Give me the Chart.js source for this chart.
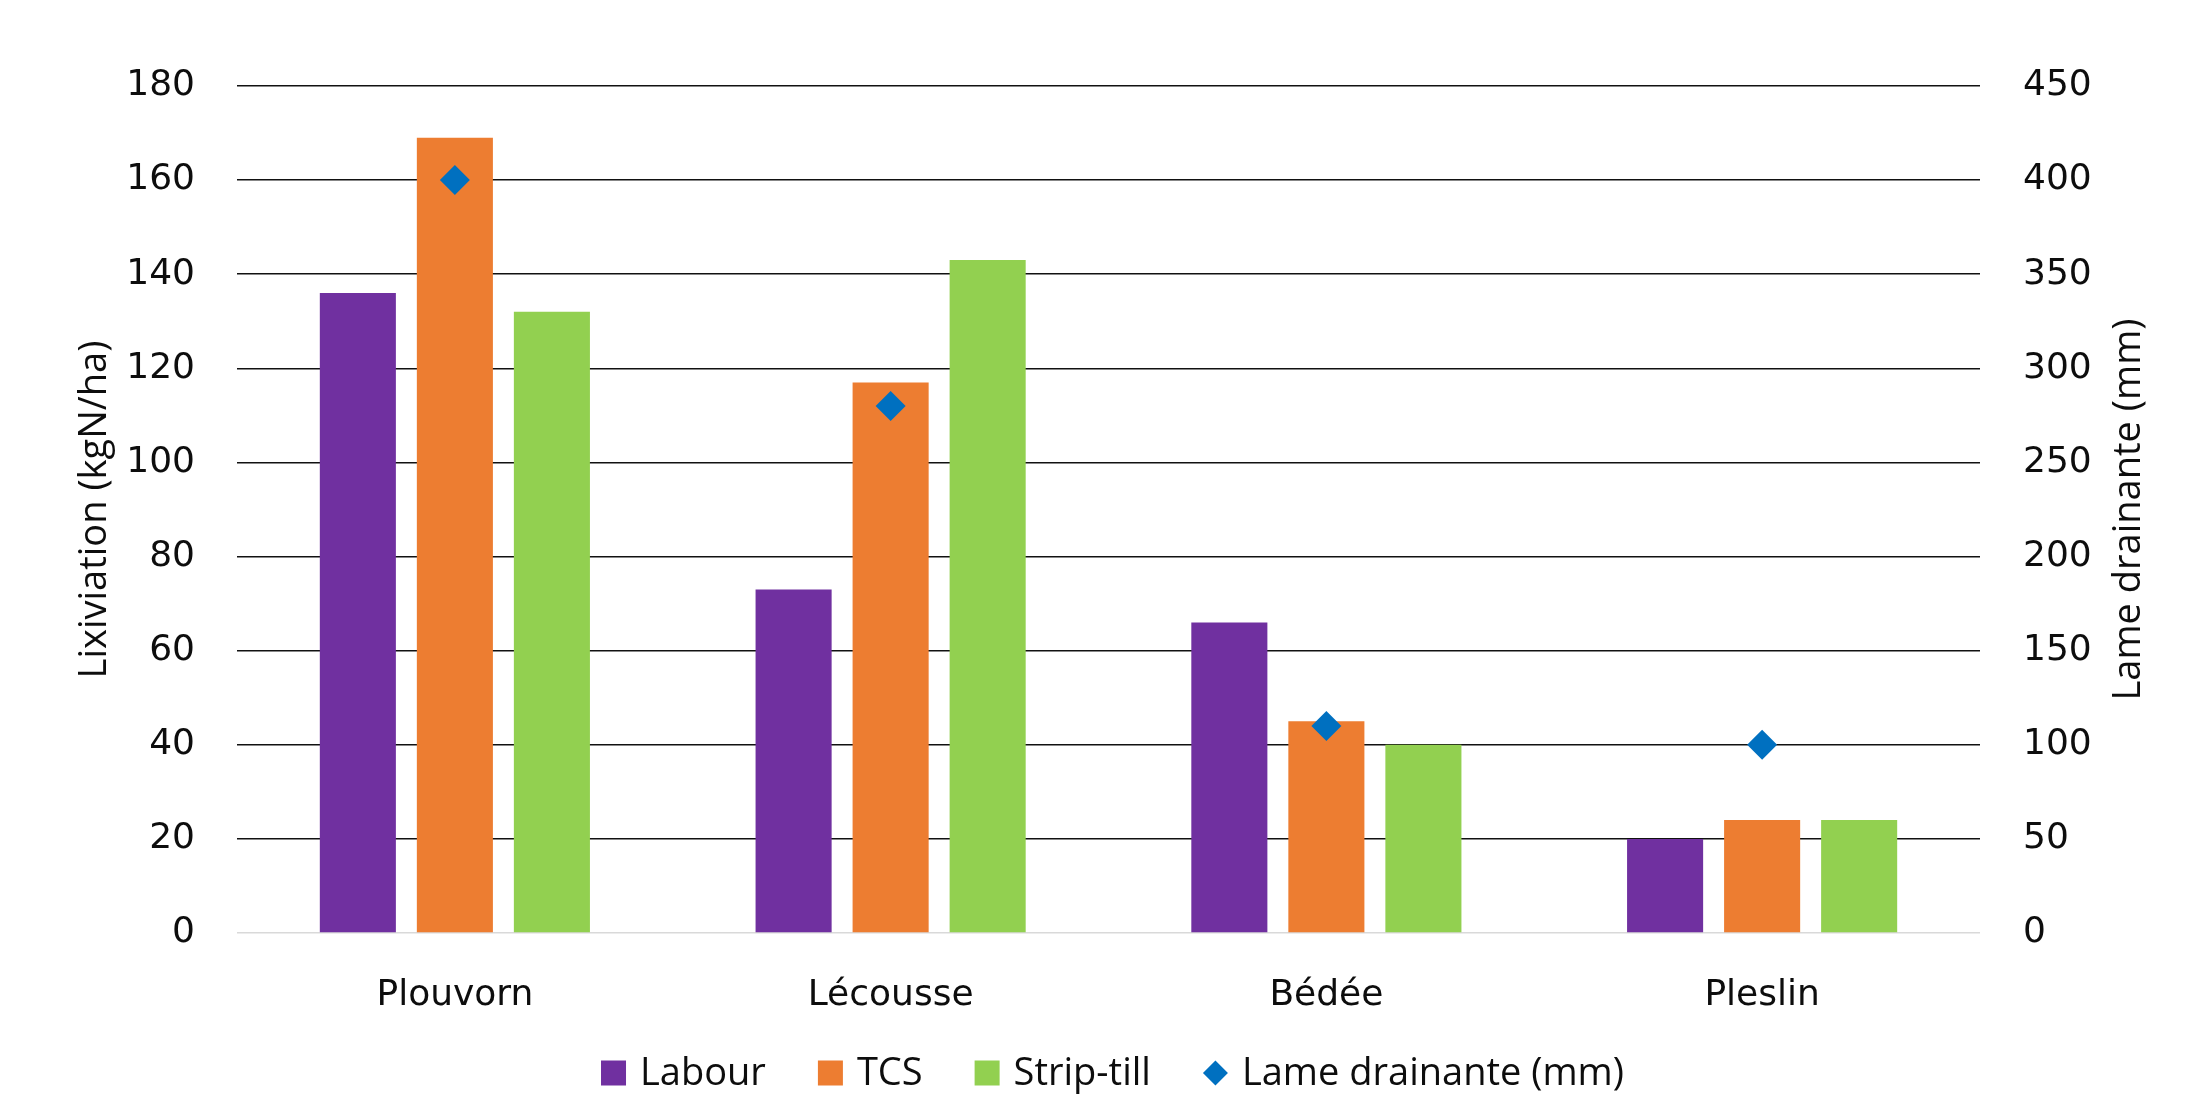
<!DOCTYPE html>
<html>
<head>
<meta charset="utf-8">
<title>Lixiviation et lame drainante</title>
<script src="https://cdn.jsdelivr.net/npm/chart.js@4/dist/chart.umd.min.js"></script>
<style>
  html, body { margin: 0; padding: 0; background: #ffffff; }
  #wrap { width: 2185px; height: 1097px; }
  canvas { display: block; }
</style>
</head>
<body>
<div id="wrap"><canvas id="chart" width="2185" height="1097"></canvas></div>
<script>
// Sites
const sites = ['Plouvorn', 'Lécousse', 'Bédée', 'Pleslin'];

// Lixiviation (kgN/ha) per tillage system
const labour = [136, 73, 66, 20];
const tcs = [169, 117, 45, 24];
const stripTill = [132, 143, 40, 24];

// Lame drainante (mm), right axis
const lameDrainante = [400, 280, 110, 100];

// Axis ranges
const leftAxis = { min: 0, max: 180, step: 20 };
const rightAxis = { min: 0, max: 450, step: 50 };

const leftTitle = 'Lixiviation (kgN/ha)';
const rightTitle = 'Lame drainante (mm)';

const COLORS = {
  labour: '#7030A0',
  tcs: '#ED7D31',
  strip: '#92D050',
  lame: '#0070C0',
  text: '#0d0d0d',
  grid: '#111111',
  zero: '#d9d9d9'
};

const TICK_FONT = { family: '"DejaVu Sans", Verdana, sans-serif', size: 36 };
const LABEL_FONT_FAMILY = '"Open Sans", "Noto Sans", sans-serif';
const LABEL_FONT_SIZE = 38;

// Right-hand axis title (reads bottom to top) and the legend row
const sideDecorations = {
  id: 'sideDecorations',
  afterDraw(chart) {
    const { ctx, chartArea } = chart;
    const midY = (chartArea.top + chartArea.bottom) / 2;
    ctx.save();
    ctx.fillStyle = COLORS.text;
    ctx.font = LABEL_FONT_SIZE + 'px ' + LABEL_FONT_FAMILY;
    ctx.textBaseline = 'middle';

    // right axis title
    ctx.save();
    ctx.translate(2129, midY);
    ctx.rotate(-Math.PI / 2);
    ctx.textAlign = 'center';
    ctx.fillText(rightTitle, 0, 0);
    ctx.restore();

    // legend
    const box = 25, gapText = 14, gapItem = 52, legendY = 1073;
    const items = chart.data.datasets.map(ds => ({
      label: ds.label,
      color: ds.backgroundColor,
      diamond: ds.type === 'line',
      w: ctx.measureText(ds.label).width
    }));
    const total = items.reduce((s, it) => s + box + gapText + it.w, 0) + gapItem * (items.length - 1);
    let x = (chartArea.left + chartArea.right) / 2 + 4 - total / 2;
    ctx.textAlign = 'left';
    items.forEach(it => {
      ctx.fillStyle = it.color;
      if (it.diamond) {
        const cx = x + box / 2, r = box / 2;
        ctx.beginPath();
        ctx.moveTo(cx - r, legendY);
        ctx.lineTo(cx, legendY - r);
        ctx.lineTo(cx + r, legendY);
        ctx.lineTo(cx, legendY + r);
        ctx.closePath();
        ctx.fill();
      } else {
        ctx.fillRect(x, legendY - box / 2, box, box);
      }
      ctx.fillStyle = COLORS.text;
      ctx.fillText(it.label, x + box + gapText, legendY + 1);
      x += box + gapText + it.w + gapItem;
    });
    ctx.restore();
  }
};

function build() {
  const ctx = document.getElementById('chart').getContext('2d');
  new Chart(ctx, {
    type: 'bar',
    data: {
      labels: sites,
      datasets: [
        { label: 'Labour', data: labour, backgroundColor: COLORS.labour, yAxisID: 'y', order: 1 },
        { label: 'TCS', data: tcs, backgroundColor: COLORS.tcs, yAxisID: 'y', order: 1 },
        { label: 'Strip-till', data: stripTill, backgroundColor: COLORS.strip, yAxisID: 'y', order: 1 },
        {
          type: 'line',
          label: 'Lame drainante (mm)',
          data: lameDrainante,
          yAxisID: 'y1',
          showLine: false,
          backgroundColor: COLORS.lame,
          borderColor: COLORS.lame,
          pointStyle: 'rectRot',
          pointRadius: 15,
          pointHoverRadius: 15,
          pointBorderWidth: 0,
          order: 0
        }
      ]
    },
    options: {
      responsive: false,
      devicePixelRatio: 1,
      animation: false,
      events: [],
      layout: { padding: { top: 86, bottom: 64, left: 0, right: 0 } },
      datasets: {
        bar: { categoryPercentage: 0.668, barPercentage: 0.784, borderWidth: 0 }
      },
      plugins: {
        legend: { display: false },
        tooltip: { enabled: false }
      },
      scales: {
        x: {
          grid: { display: false },
          border: { display: false },
          ticks: { color: COLORS.text, font: TICK_FONT, padding: 33, maxRotation: 0 },
          afterFit(scale) { scale.height = 100; }
        },
        y: {
          position: 'left',
          min: leftAxis.min,
          max: leftAxis.max,
          ticks: { stepSize: leftAxis.step, color: COLORS.text, font: TICK_FONT, padding: 42 },
          grid: {
            drawTicks: false,
            lineWidth: 1.5,
            color: c => (c.tick && c.tick.value === 0 ? COLORS.zero : COLORS.grid)
          },
          border: { display: false },
          title: {
            display: true,
            text: leftTitle,
            color: COLORS.text,
            font: { family: LABEL_FONT_FAMILY, size: LABEL_FONT_SIZE },
            padding: { top: 72, bottom: 0 }
          },
          afterFit(scale) { scale.width = 237; }
        },
        y1: {
          position: 'right',
          min: rightAxis.min,
          max: rightAxis.max,
          ticks: { stepSize: rightAxis.step, color: COLORS.text, font: TICK_FONT, padding: 43 },
          grid: { display: false, drawTicks: false },
          border: { display: false },
          afterFit(scale) { scale.width = 205; }
        }
      }
    },
    plugins: [sideDecorations]
  });
}

const fontLoads = [
  document.fonts.load(LABEL_FONT_SIZE + 'px "Open Sans"'),
  document.fonts.load('36px "DejaVu Sans"')
];
Promise.all(fontLoads).then(build, build);
</script>
</body>
</html>
